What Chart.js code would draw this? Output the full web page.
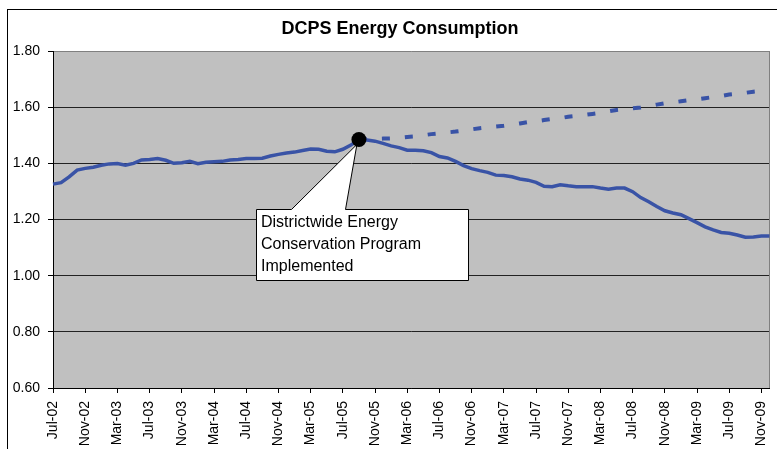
<!DOCTYPE html>
<html>
<head>
<meta charset="utf-8">
<script src="https://cdn.jsdelivr.net/npm/chart.js@4/dist/chart.umd.min.js"></script>
<style>
  html, body { margin: 0; padding: 0; background: #fff; }
  #wrap { width: 777px; height: 449px; }
</style>
</head>
<body>
<div id="wrap"><canvas id="chart" width="777" height="449"></canvas></div>
<script>
const months = [
  'Jul-02','Aug-02','Sep-02','Oct-02','Nov-02','Dec-02',
  'Jan-03','Feb-03','Mar-03','Apr-03','May-03','Jun-03','Jul-03','Aug-03','Sep-03','Oct-03','Nov-03','Dec-03',
  'Jan-04','Feb-04','Mar-04','Apr-04','May-04','Jun-04','Jul-04','Aug-04','Sep-04','Oct-04','Nov-04','Dec-04',
  'Jan-05','Feb-05','Mar-05','Apr-05','May-05','Jun-05','Jul-05','Aug-05','Sep-05','Oct-05','Nov-05','Dec-05',
  'Jan-06','Feb-06','Mar-06','Apr-06','May-06','Jun-06','Jul-06','Aug-06','Sep-06','Oct-06','Nov-06','Dec-06',
  'Jan-07','Feb-07','Mar-07','Apr-07','May-07','Jun-07','Jul-07','Aug-07','Sep-07','Oct-07','Nov-07','Dec-07',
  'Jan-08','Feb-08','Mar-08','Apr-08','May-08','Jun-08','Jul-08','Aug-08','Sep-08','Oct-08','Nov-08','Dec-08',
  'Jan-09','Feb-09','Mar-09','Apr-09','May-09','Jun-09','Jul-09','Aug-09','Sep-09','Oct-09','Nov-09','Dec-09'
];

// actual consumption (solid line)
const actual = [
  1.326, 1.331, 1.352, 1.376, 1.382, 1.386,
  1.393, 1.398, 1.399, 1.393, 1.400, 1.412, 1.414, 1.417, 1.411, 1.400, 1.402, 1.407,
  1.399, 1.404, 1.406, 1.407, 1.412, 1.414, 1.417, 1.417, 1.418, 1.426, 1.432, 1.437,
  1.440, 1.446, 1.451, 1.450, 1.443, 1.441, 1.450, 1.465, 1.485, 1.483, 1.479, 1.471,
  1.462, 1.456, 1.447, 1.447, 1.445, 1.438, 1.424, 1.419, 1.407, 1.392, 1.381, 1.374,
  1.368, 1.358, 1.357, 1.352, 1.344, 1.340, 1.332, 1.318, 1.317, 1.324, 1.320, 1.317,
  1.317, 1.317, 1.312, 1.308, 1.312, 1.312, 1.299, 1.278, 1.263, 1.246, 1.231, 1.223,
  1.217, 1.203, 1.189, 1.174, 1.163, 1.154, 1.151, 1.145, 1.137, 1.138, 1.141, 1.141
];

// projected consumption without the program (dashed line), starts Sep-05
const projected = [
  null, null, null, null, null, null,
  null, null, null, null, null, null, null, null, null, null, null, null,
  null, null, null, null, null, null, null, null, null, null, null, null,
  null, null, null, null, null, null, null, null, 1.485, 1.486, 1.487, 1.488,
  1.489, 1.491, 1.494, 1.496, 1.500, 1.504, 1.507, 1.510, 1.513, 1.517, 1.521, 1.525,
  1.528, 1.531, 1.534, 1.538, 1.542, 1.547, 1.550, 1.554, 1.558, 1.561, 1.566, 1.569,
  1.572, 1.576, 1.580, 1.585, 1.590, 1.593, 1.596, 1.599, 1.604, 1.609, 1.614, 1.617,
  1.621, 1.625, 1.628, 1.632, 1.636, 1.640, 1.645, 1.648, 1.651, 1.655, 1.658, 1.662
];

const markerMonth = 'Sep-05';
const markerValue = 1.485;
const yTicks = [0.6, 0.8, 1.0, 1.2, 1.4, 1.6, 1.8];
const calloutLines = ['Districtwide Energy', 'Conservation Program', 'Implemented'];

const FONT = 'Arial, "Liberation Sans", sans-serif';
const BLUE = '#3953A6';

const marker = months.map(m => (m === markerMonth ? markerValue : null));

const frame = {
  id: 'frame',
  beforeDraw(chart) {
    const { ctx, chartArea: a } = chart;
    ctx.save();
    ctx.fillStyle = '#fff';
    ctx.fillRect(0, 0, chart.width, chart.height);
    ctx.strokeStyle = '#000';
    ctx.lineWidth = 1;
    ctx.strokeRect(7.5, 9.5, 900, 600);
    ctx.fillStyle = '#C0C0C0';
    ctx.fillRect(a.left, a.top, a.right - a.left, a.bottom - a.top);
    ctx.fillStyle = '#000';
    ctx.font = 'bold 18px ' + FONT;
    ctx.textAlign = 'center';
    ctx.textBaseline = 'middle';
    ctx.fillText('DCPS Energy Consumption', 400, 29);
    ctx.restore();
  },
  beforeDatasetsDraw(chart) {
    const { ctx, chartArea: a, scales } = chart;
    ctx.save();
    // right edge of plot area
    ctx.strokeStyle = '#808080';
    ctx.lineWidth = 1;
    ctx.beginPath();
    ctx.moveTo(Math.round(a.right) - 0.5, a.top);
    ctx.lineTo(Math.round(a.right) - 0.5, a.bottom);
    ctx.stroke();

    // callout pointing at the marker
    const px = scales.x.getPixelForValue(months.indexOf(markerMonth));
    const py = scales.y.getPixelForValue(markerValue);
    const bx = 256.5, by = 209.5, bw = 212, bh = 71;
    ctx.beginPath();
    ctx.moveTo(bx, by);
    ctx.lineTo(291.5, by);
    ctx.lineTo(px - 2, py + 5);
    ctx.lineTo(345.5, by);
    ctx.lineTo(bx + bw, by);
    ctx.lineTo(bx + bw, by + bh);
    ctx.lineTo(bx, by + bh);
    ctx.closePath();
    ctx.fillStyle = '#fff';
    ctx.fill();
    ctx.strokeStyle = '#000';
    ctx.stroke();
    ctx.fillStyle = '#000';
    ctx.font = '16px ' + FONT;
    ctx.textAlign = 'left';
    ctx.textBaseline = 'middle';
    calloutLines.forEach((t, i) => ctx.fillText(t, 261, 223 + i * 22));
    ctx.restore();
  }
};

new Chart(document.getElementById('chart'), {
  type: 'line',
  data: {
    labels: months,
    datasets: [
      {
        data: marker,
        borderWidth: 0,
        pointRadius: 7.5,
        pointBackgroundColor: '#000',
        pointBorderColor: '#000',
        showLine: false,
        order: 0
      },
      {
        data: actual,
        borderColor: BLUE,
        borderWidth: 3.5,
        pointRadius: 0,
        tension: 0,
        order: 1
      },
      {
        data: projected,
        borderColor: BLUE,
        borderWidth: 4,
        borderDash: [8, 15],
        pointRadius: 0,
        tension: 0,
        order: 2
      }
    ]
  },
  options: {
    responsive: false,
    animation: false,
    events: [],
    layout: { padding: { left: 0, top: 51, right: 5, bottom: 0 } },
    plugins: { legend: { display: false }, title: { display: false }, tooltip: { enabled: false } },
    scales: {
      x: {
        offset: false,
        afterFit: (s) => { s.height = 61; s.paddingLeft = 0; s.paddingRight = 0; },
        border: { display: true, color: '#000', width: 1 },
        grid: {
          drawOnChartArea: false,
          drawTicks: true,
          tickLength: 5,
          color: '#000'
        },
        ticks: {
          autoSkip: false,
          maxRotation: 90,
          minRotation: 90,
          padding: 8,
          color: '#000',
          font: { family: FONT, size: 14 },
          callback: (v, i) => (i % 4 === 0 ? months[i] : null)
        }
      },
      y: {
        min: 0.6,
        max: 1.8,
        afterFit: (s) => { s.width = 53; },
        afterBuildTicks: (s) => { s.ticks = yTicks.map(v => ({ value: v })); },
        border: { display: true, color: '#000', width: 1 },
        grid: {
          color: (c) => (c.tick && c.tick.value === 1.8 ? '#808080' : '#222'),
          lineWidth: 1,
          tickLength: 5,
          tickColor: '#000'
        },
        ticks: {
          padding: 8,
          color: '#000',
          font: { family: FONT, size: 14 },
          callback: (v) => Number(v).toFixed(2)
        }
      }
    }
  },
  plugins: [frame]
});
</script>
</body>
</html>
